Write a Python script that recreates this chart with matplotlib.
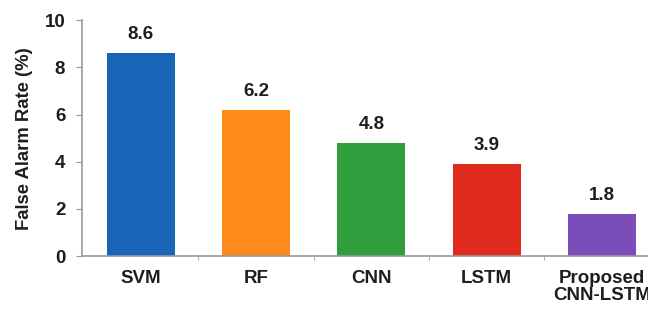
import matplotlib.pyplot as plt

models = ["SVM", "RF", "CNN", "LSTM", "Proposed\nCNN-LSTM"]
far = [8.6, 6.2, 4.8, 3.9, 1.8]
bar_colors = ["#1a64b8", "#ff8a1c", "#2f9e3c", "#e02a1e", "#7b4dbb"]

plt.rcParams["font.family"] = ["Liberation Sans", "DejaVu Sans"]
plt.rcParams["font.weight"] = "bold"

fig = plt.figure(figsize=(6.48, 3.12), dpi=100)
ax = fig.add_axes([0.1265, 0.179, 0.8735, 0.756])

pos = list(range(len(models)))
ax.bar(pos, far, width=0.59, color=bar_colors, edgecolor="none")
for x, v in zip(pos, far):
    ax.text(x, v + 0.42, f"{v:.1f}", ha="center", va="bottom",
            fontsize=13.5, fontweight="bold", color="#1e1e1e")

ax.set_xlim(-0.51, 4.4)
ax.set_ylim(0, 10)
ax.set_yticks([0, 2, 4, 6, 8, 10])
ax.set_xticks(pos)
ax.set_xticklabels(models, fontsize=13.5, fontweight="bold", color="#1e1e1e",
                   linespacing=1.0)
ax.set_xticks([p + 0.5 for p in pos[:-1]], minor=True)
ax.tick_params(axis="x", which="major", length=0, pad=10)
ax.tick_params(axis="x", which="minor", length=3, color="#999999")
ax.tick_params(axis="y", length=4, color="#999999", labelsize=13.5,
               labelcolor="#1e1e1e", pad=8)
for lbl in ax.get_yticklabels():
    lbl.set_fontweight("bold")

ax.set_ylabel("False Alarm Rate (%)", fontsize=13.3, fontweight="bold",
              color="#1e1e1e", labelpad=8)

for side in ["top", "right"]:
    ax.spines[side].set_visible(False)
for side in ["left", "bottom"]:
    ax.spines[side].set_color("#999999")
    ax.spines[side].set_linewidth(1.2)

fig.savefig("out.png", dpi=100)
